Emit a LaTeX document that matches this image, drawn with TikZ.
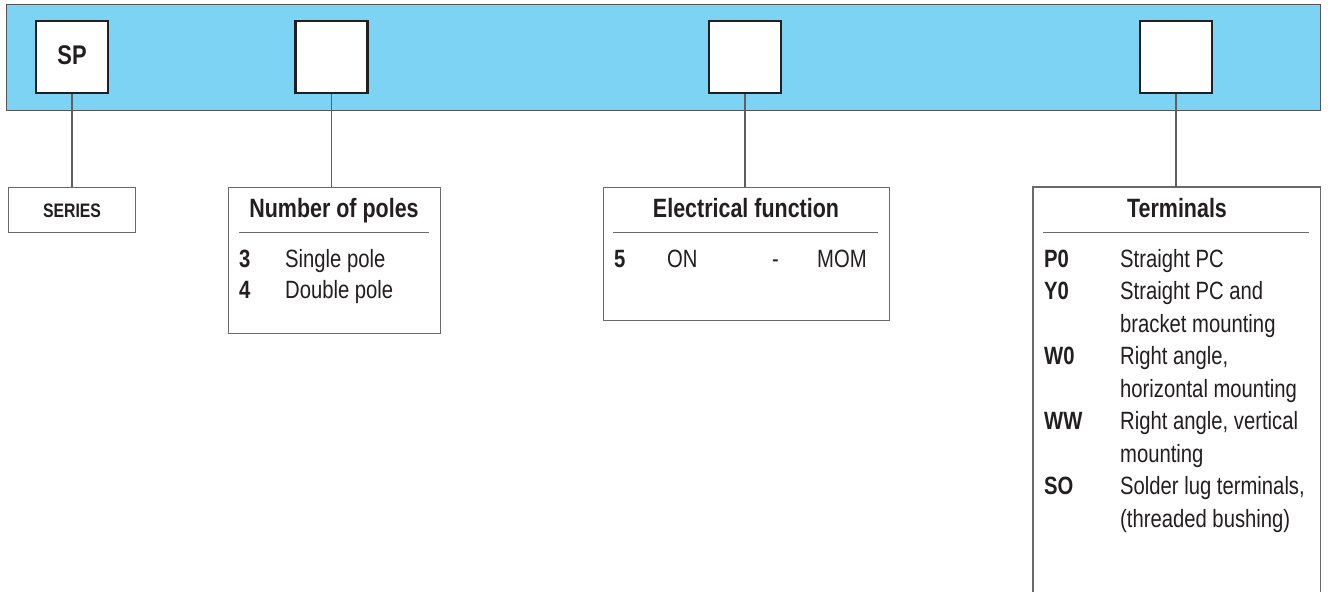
\documentclass[tikz,border=0pt]{standalone}
\usepackage{fontspec}
\setmainfont[FakeStretch=0.81]{Liberation Sans}
\definecolor{bandblue}{HTML}{7DD3F3}
\definecolor{ink}{HTML}{231F20}
\definecolor{rule}{HTML}{6A6A6A}
\begin{document}
\begin{tikzpicture}[x=1pt,y=-1pt,
  bandbox/.style={draw=rule!80!black, line width=1pt, fill=bandblue, anchor=north west, inner sep=0pt},
  sqbox/.style={draw=ink, line width=2.8pt, fill=white, minimum size=72pt, inner sep=0pt},
  infobox/.style={draw=rule, line width=1.1pt, anchor=north west, inner sep=0pt},
  conn/.style={draw=rule!90!black, line width=1.1pt},
  seprule/.style={draw=rule, line width=1pt},
  titletxt/.style={anchor=base, text=ink, font=\fontsize{26.5}{26.5}\selectfont\bfseries, inner sep=0pt},
  codetxt/.style={anchor=base west, text=ink, font=\fontsize{25}{25}\selectfont\bfseries, inner sep=0pt},
  desctxt/.style={anchor=base west, text=ink, font=\fontsize{25}{25}\selectfont, inner sep=0pt}
]
\useasboundingbox (0,0) rectangle (1328,592);
\fill[white] (0,0) rectangle (1328,592);

% band
\node[bandbox, minimum width=1314pt, minimum height=106pt] (bar) at (6,4) {};

% squares
\node[sqbox] (s1) at (72,57) {};
\node[anchor=base, text=ink, inner sep=0pt, font=\fontsize{27}{27}\selectfont\bfseries] (sptxt) at (72,64) {SP};
\node[sqbox] (s2) at (331.5,57) {};
\node[sqbox] (s3) at (745,57) {};
\node[sqbox] (s4) at (1176,57) {};

% boxes
\node[infobox, minimum width=127pt, minimum height=45pt] (series) at (8,187) {};
\node[infobox, minimum width=212pt, minimum height=146pt] (poles) at (228,187) {};
\node[infobox, minimum width=286pt, minimum height=133pt] (elec) at (603,187) {};
\node[anchor=north west, inner sep=0pt, minimum width=287pt, minimum height=405pt] (term) at (1033,187) {};
\draw[infobox] (term.south west) -- (term.north west) -- (term.north east) -- (term.south east);

% connectors
\draw[conn] (s1.south) -- (s1.south |- series.north);
\draw[conn] (s2.south) -- (s2.south |- poles.north);
\draw[conn] (s3.south) -- (s3.south |- elec.north);
\draw[conn] (s4.south) -- (s4.south |- term.north);

% SERIES
\node[anchor=base, text=ink, inner sep=0pt, font=\fontsize{19.5}{19.5}\selectfont\bfseries] (sertxt) at (72,217) {SERIES};

% Number of poles
\node[titletxt] (ptitle) at (334,217) {Number of poles};
\draw[seprule] (239,232) -- (429,232);
\node[codetxt] (p3) at (239,267) {3};
\node[desctxt] (p3d) at (285,267) {Single pole};
\node[codetxt] (p4) at (239,298.5) {4};
\node[desctxt] (p4d) at (285,298.5) {Double pole};

% Electrical function
\node[titletxt] (etitle) at (746,217) {Electrical function};
\draw[seprule] (613,232) -- (878,232);
\node[codetxt] (e5) at (614,267) {5};
\node[desctxt] (eon) at (667,267) {ON};
\node[desctxt] (edash) at (772,267) {-};
\node[desctxt] (emom) at (817,267) {MOM};

% Terminals
\node[titletxt] (ttitle) at (1177,217) {Terminals};
\draw[seprule] (1043,232) -- (1309,232);
\node[codetxt] (c1) at (1044,267) {P0};
\node[desctxt] (d1) at (1120,267) {Straight PC};
\node[codetxt] (c2) at (1044,299.5) {Y0};
\node[desctxt] (d2) at (1120,299.5) {Straight PC and};
\node[desctxt] (d2b) at (1120,332) {bracket mounting};
\node[codetxt] (c3) at (1044,364.5) {W0};
\node[desctxt] (d3) at (1120,364.5) {Right angle,};
\node[desctxt] (d3b) at (1120,397) {horizontal mounting};
\node[codetxt] (c4) at (1044,429.5) {WW};
\node[desctxt] (d4) at (1120,429.5) {Right angle, vertical};
\node[desctxt] (d4b) at (1120,462) {mounting};
\node[codetxt] (c5) at (1044,494.5) {SO};
\node[desctxt] (d5) at (1120,494.5) {Solder lug terminals,};
\node[desctxt] (d5b) at (1120,527) {(threaded bushing)};
\end{tikzpicture}
\end{document}
